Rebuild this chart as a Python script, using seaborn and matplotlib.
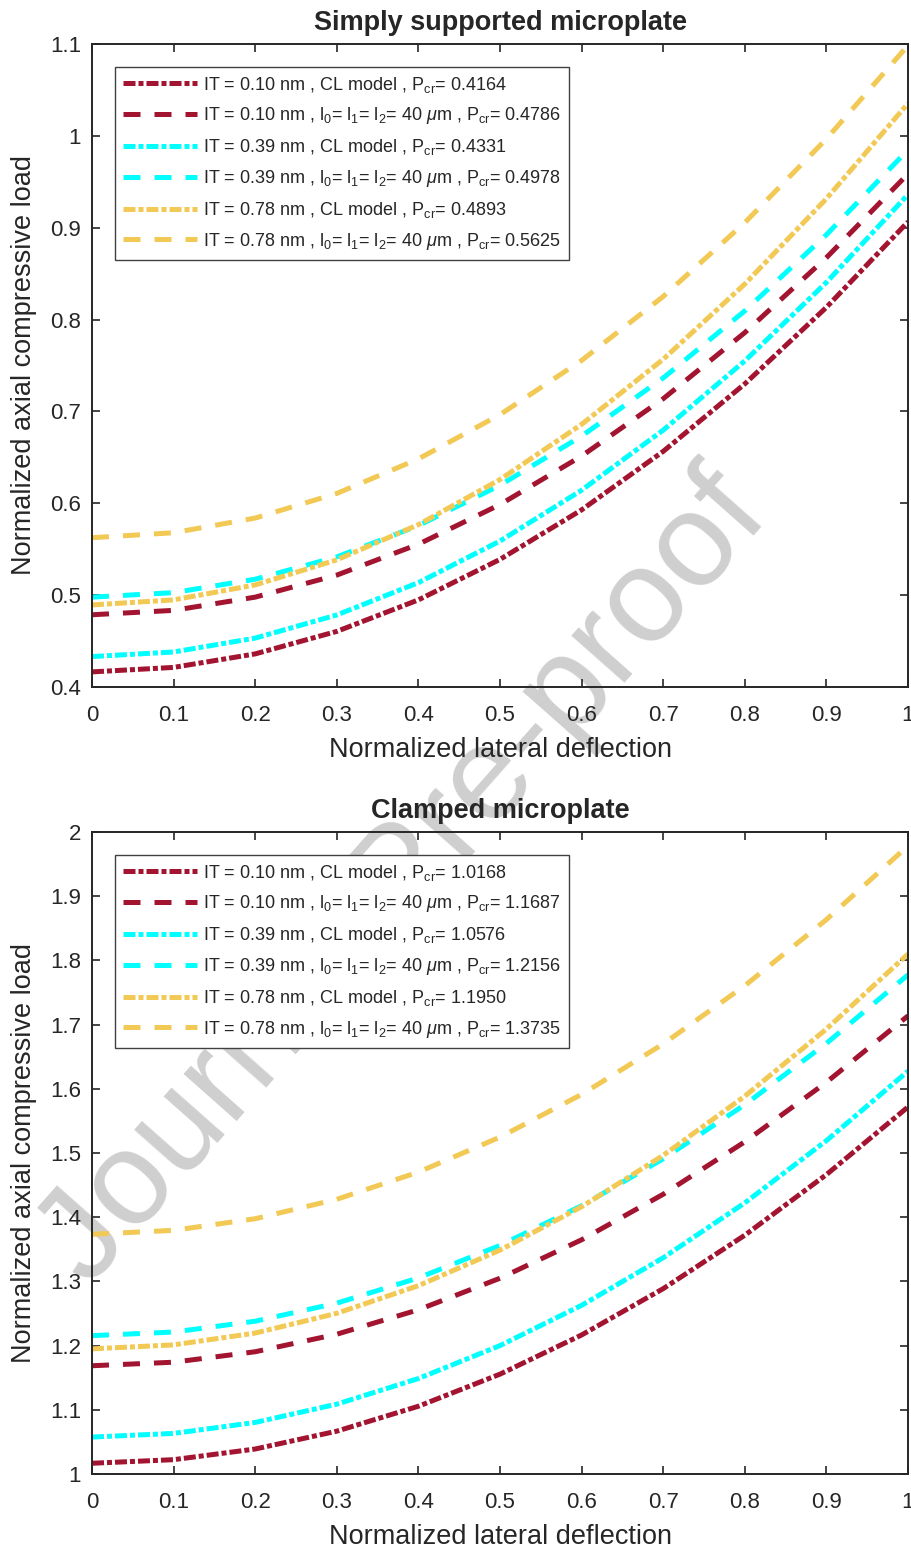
import matplotlib
matplotlib.use('Agg')
from matplotlib import pyplot as plt
import seaborn as sns
import pandas as pd

# normalized lateral deflection (x axis, both panels)
deflection = [0.0, 0.1, 0.2, 0.3, 0.4, 0.5, 0.6, 0.7, 0.8, 0.9, 1.0]

# simply supported microplate
ss_010_cl = [0.4164, 0.4213, 0.4360, 0.4605, 0.4948, 0.5389, 0.5928, 0.6565, 0.7300, 0.8133, 0.9064]
ss_010_mcs = [0.4786, 0.4834, 0.4978, 0.5218, 0.5554, 0.5986, 0.6514, 0.7138, 0.7858, 0.8674, 0.9586]
ss_039_cl = [0.4331, 0.4381, 0.4532, 0.4784, 0.5136, 0.5589, 0.6142, 0.6796, 0.7550, 0.8405, 0.9361]
ss_039_mcs = [0.4978, 0.5027, 0.5173, 0.5416, 0.5757, 0.6196, 0.6731, 0.7364, 0.8095, 0.8923, 0.9848]
ss_078_cl = [0.4893, 0.4948, 0.5111, 0.5384, 0.5767, 0.6258, 0.6859, 0.7568, 0.8387, 0.9316, 1.0353]
ss_078_mcs = [0.5625, 0.5679, 0.5839, 0.6107, 0.6483, 0.6965, 0.7555, 0.8251, 0.9055, 0.9967, 1.0985]

# clamped microplate
cc_010_cl = [1.0168, 1.0224, 1.0390, 1.0668, 1.1056, 1.1556, 1.2166, 1.2888, 1.3720, 1.4664, 1.5718]
cc_010_mcs = [1.1687, 1.1742, 1.1905, 1.2178, 1.2559, 1.3050, 1.3649, 1.4358, 1.5175, 1.6102, 1.7137]
cc_039_cl = [1.0576, 1.0633, 1.0804, 1.1089, 1.1488, 1.2001, 1.2628, 1.3369, 1.4224, 1.5193, 1.6276]
cc_039_mcs = [1.2156, 1.2212, 1.2381, 1.2662, 1.3055, 1.3561, 1.4179, 1.4910, 1.5753, 1.6708, 1.7776]
cc_078_cl = [1.1950, 1.2012, 1.2196, 1.2504, 1.2934, 1.3488, 1.4164, 1.4964, 1.5886, 1.6932, 1.8100]
cc_078_mcs = [1.3735, 1.3796, 1.3977, 1.4280, 1.4703, 1.5248, 1.5913, 1.6700, 1.7607, 1.8636, 1.9785]

thickness = ['0.10', '0.10', '0.39', '0.39', '0.78', '0.78']
ss_pcr = ['0.4164', '0.4786', '0.4331', '0.4978', '0.4893', '0.5625']
cc_pcr = ['1.0168', '1.1687', '1.0576', '1.2156', '1.1950', '1.3735']

x_ticks = [0, 0.1, 0.2, 0.3, 0.4, 0.5, 0.6, 0.7, 0.8, 0.9, 1]
ss_yticks = [0.4, 0.5, 0.6, 0.7, 0.8, 0.9, 1, 1.1]
cc_yticks = [1, 1.1, 1.2, 1.3, 1.4, 1.5, 1.6, 1.7, 1.8, 1.9, 2]

RED = '#A2142F'
CYAN = '#00FFFF'
YELLOW = '#F2C955'
DASHDOT = (0, (2.4, 0.6, 1.0, 0.6))
DASHED = (0, (3.4, 2.8))

sns.set_theme(style='ticks')
plt.rcParams['font.family'] = ['Liberation Sans', 'DejaVu Sans']
plt.rcParams['mathtext.fontset'] = 'custom'
plt.rcParams['mathtext.rm'] = 'Liberation Sans'
plt.rcParams['mathtext.it'] = 'Liberation Sans:italic'
plt.rcParams['mathtext.bf'] = 'Liberation Sans:bold'
plt.rcParams['mathtext.default'] = 'regular'


def make_label(it, pcr, cl):
    if cl:
        mid = 'CL model'
    else:
        mid = r'l$_0$= l$_1$= l$_2$= 40 $\mathit{\mu}$m'
    return 'IT = ' + it + ' nm , ' + mid + r' , P$_{cr}$= ' + pcr


def draw_panel(ax, series, pcrs, yticks, title):
    colors = [RED, RED, CYAN, CYAN, YELLOW, YELLOW]
    styles = [DASHDOT, DASHED] * 3
    for i, vals in enumerate(series):
        df = pd.DataFrame({'x': deflection, 'load': vals})
        sns.lineplot(data=df, x='x', y='load', ax=ax, color=colors[i],
                     linestyle=styles[i], linewidth=3.6,
                     label=make_label(thickness[i], pcrs[i], i % 2 == 0))
    ax.set_xlim(0, 1)
    ax.set_ylim(yticks[0], yticks[-1])
    ax.set_xticks(x_ticks)
    ax.set_xticklabels([f'{t:g}' for t in x_ticks])
    ax.set_yticks(yticks)
    ax.set_yticklabels([f'{t:g}' for t in yticks])
    ax.tick_params(direction='in', length=6, width=1.2, top=True, right=True,
                   labelsize=16, color='#262626', labelcolor='#262626')
    ax.tick_params(axis='x', pad=13)
    ax.tick_params(axis='y', pad=8)
    for s in ax.spines.values():
        s.set_linewidth(1.4)
        s.set_color('#262626')
        s.set_visible(True)
    ax.set_facecolor('none')
    ax.set_xlabel('Normalized lateral deflection', fontsize=19.5, labelpad=8, color='#262626')
    ax.set_ylabel('Normalized axial compressive load', fontsize=19.5, labelpad=9, color='#262626')
    ax.set_title(title, fontsize=19.5, fontweight='bold', pad=10)
    leg = ax.legend(loc='upper left', bbox_to_anchor=(0.028, 0.965), borderaxespad=0,
                    fontsize=13, handlelength=4.1, handletextpad=0.35,
                    labelspacing=0.6, borderpad=0.45, fancybox=False,
                    framealpha=1, edgecolor='#404040')
    leg.get_frame().set_linewidth(1.0)


fig = plt.figure(figsize=(9.11, 15.5), dpi=100)
ax1 = fig.add_axes([0.1010, 0.5568, 0.8957, 0.4148])
ax2 = fig.add_axes([0.1010, 0.0490, 0.8957, 0.4142])

draw_panel(ax1, [ss_010_cl, ss_010_mcs, ss_039_cl, ss_039_mcs, ss_078_cl, ss_078_mcs],
           ss_pcr, ss_yticks, 'Simply supported microplate')
draw_panel(ax2, [cc_010_cl, cc_010_mcs, cc_039_cl, cc_039_mcs, cc_078_cl, cc_078_mcs],
           cc_pcr, cc_yticks, 'Clamped microplate')

# watermark
fig.text(405 / 911, 1 - 880 / 1550, 'Journal Pre-proof', fontsize=96, color='#cfcfcf',
         rotation=48.5, rotation_mode='anchor', ha='center', va='center', zorder=-1)

fig.savefig('out.png', dpi=100, facecolor='white')
